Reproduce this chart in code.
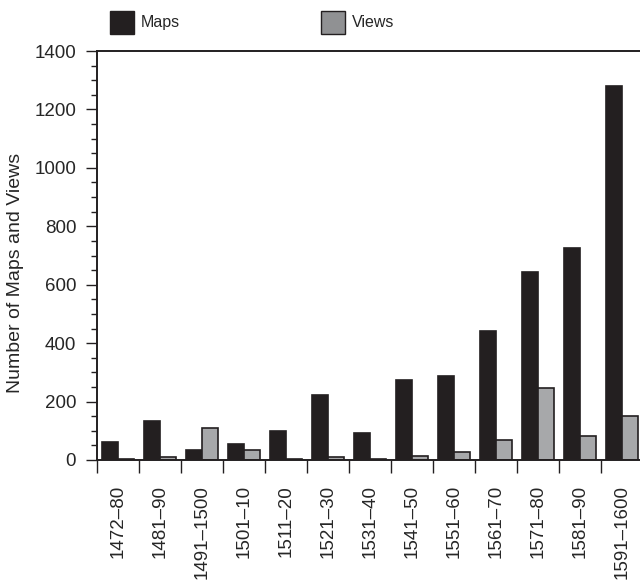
import numpy as np, pandas as pd, matplotlib.pyplot as plt, seaborn as sns
from matplotlib.ticker import MultipleLocator, FixedLocator

periods = ["1472\u201380", "1481\u201390", "1491\u20131500", "1501\u201310", "1511\u201320", "1521\u201330",
           "1531\u201340", "1541\u201350", "1551\u201360", "1561\u201370", "1571\u201380", "1581\u201390", "1591\u20131600"]
maps = [60, 133, 34, 55, 100, 223, 91, 273, 286, 441, 643, 725, 1280]
views = [2, 11, 110, 33, 5, 9, 4, 13, 26, 68, 246, 83, 150]

df = pd.DataFrame({"period": periods * 2,
                   "kind": ["Maps"] * len(periods) + ["Views"] * len(periods),
                   "count": maps + views})

sns.set_style("ticks")
plt.rcParams["font.family"] = ["Liberation Sans", "DejaVu Sans"]

fig = plt.figure(figsize=(6.4, 5.83), dpi=100)
ax = fig.add_axes([97/640, 123/583, 546/640, 409/583])
sns.barplot(data=df, x="period", y="count", hue="kind", ax=ax, width=0.76,
            palette={"Maps": "#231f20", "Views": "#a7a8aa"}, edgecolor="#231f20",
            linewidth=1.2, saturation=1, legend=False)

ax.set_xlim(-0.5, len(periods) - 0.5)
ax.set_ylim(0, 1400)
ax.yaxis.set_major_locator(MultipleLocator(200))
ax.yaxis.set_minor_locator(MultipleLocator(50))
ax.xaxis.set_minor_locator(FixedLocator(np.arange(-0.5, len(periods), 1)))
ax.tick_params(axis="y", which="major", length=8, width=1, labelsize=13.5, pad=7, color="#231f20")
ax.tick_params(axis="y", which="minor", length=4.5, width=1, color="#231f20")
ax.tick_params(axis="x", which="major", length=0, labelsize=13.5, pad=18, labelrotation=90)
ax.tick_params(axis="x", which="minor", length=9, width=1, color="#231f20")
ax.set_xlabel("")
ax.set_ylabel("Number of Maps and Views", fontsize=14)
ax.yaxis.set_label_coords(-0.133, 0.457)
for s in ["left", "bottom", "top"]:
    ax.spines[s].set_linewidth(1.4)
    ax.spines[s].set_color("#231f20")
ax.spines["right"].set_visible(False)

handles = [plt.Rectangle((0, 0), 1, 1, fc="#231f20", ec="#231f20"),
           plt.Rectangle((0, 0), 1, 1, fc="#909193", ec="#231f20")]
leg = fig.legend(handles, ["Maps", "Views"], loc="upper left", bbox_to_anchor=(110/640, 1 - 11/583),
                 ncol=2, frameon=False, fontsize=11.5, handlelength=1.5, handleheight=1.8,
                 handletextpad=0.45, columnspacing=8.8, borderpad=0, borderaxespad=0)

plt.savefig("out.png", dpi=100)
plt.close()
